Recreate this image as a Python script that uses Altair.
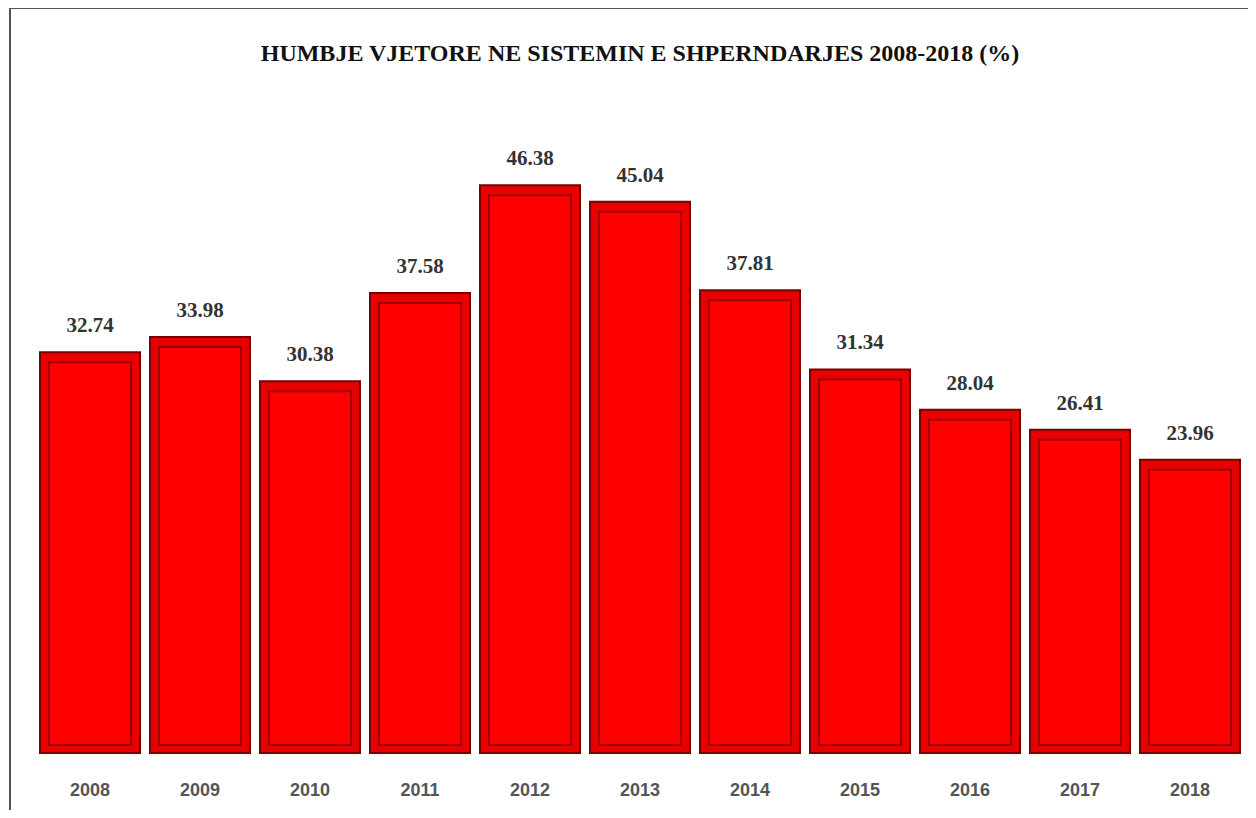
import altair as alt
import pandas as pd

years = ["2008", "2009", "2010", "2011", "2012", "2013", "2014", "2015", "2016", "2017", "2018"]
values = [32.74, 33.98, 30.38, 37.58, 46.38, 45.04, 37.81, 31.34, 28.04, 26.41, 23.96]
labels = ["32.74", "33.98", "30.38", "37.58", "46.38", "45.04", "37.81", "31.34", "28.04", "26.41", "23.96"]
title_text = "HUMBJE VJETORE NE SISTEMIN E SHPERNDARJES 2008-2018 (%)"

df = pd.DataFrame({"year": years, "value": values, "label": labels})

W, H = 1210, 612

x = alt.X("year:N", sort=years, title=None,
          scale=alt.Scale(paddingInner=10 / 110, paddingOuter=5 / 110),
          axis=alt.Axis(domain=False, ticks=False, labelAngle=0, labelPadding=28,
                        labelFont="Liberation Sans", labelFontWeight="bold",
                        labelFontSize=18, labelColor="#555555"))
y = alt.Y("value:Q", title=None, scale=alt.Scale(domain=[0, 50], nice=False),
          axis=None)

base = alt.Chart(df)

outer = base.mark_bar(color="#e80000", stroke="#7a0000", strokeWidth=2).encode(x=x, y=y)
inner = base.mark_bar(color="#ff0000", stroke="#a00000", strokeWidth=2,
                      width=alt.RelativeBandSize(0.82), yOffset=10, y2Offset=-8).encode(
    x=x, y=y, y2=alt.datum(0))
text = base.mark_text(font="Liberation Serif", fontWeight="bold", fontSize=21,
                      color="#333333", baseline="alphabetic", dy=-20).encode(
    x=x, y=y, text="label:N")

title = alt.Chart(pd.DataFrame({"t": [title_text]})).mark_text(
    font="Liberation Serif", fontWeight="bold", fontSize=24, color="#111111",
    baseline="alphabetic", align="center").encode(
    x=alt.value(W / 2), y=alt.value(-80), text="t:N")

frame_left = alt.Chart(pd.DataFrame({"a": [0]})).mark_rule(color="#555555", strokeWidth=2).encode(
    x=alt.value(-25), y=alt.value(-133), y2=alt.value(H + 60))
frame_top = alt.Chart(pd.DataFrame({"a": [0]})).mark_rule(color="#555555", strokeWidth=2).encode(
    x=alt.value(-25), x2=alt.value(W + 12), y=alt.value(-133))

chart = alt.layer(frame_left, frame_top, outer, inner, text, title).properties(
    width=W, height=H,
    background="white",
    autosize=alt.AutoSizeParams(type="none"),
    padding={"left": 27, "top": 133, "right": 3, "bottom": 57},
).configure_view(stroke="transparent", strokeWidth=0)

chart.save("out.html", embed_options={"renderer": "svg", "actions": False})
